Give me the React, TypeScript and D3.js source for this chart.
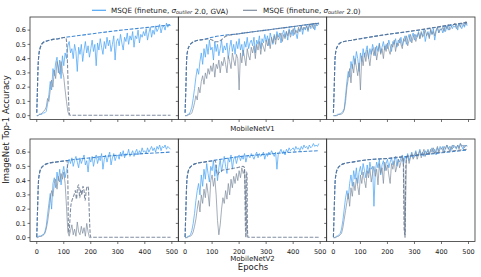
import React from 'react';
import * as d3 from 'd3';

// accuracy in percent, one value every 5 epochs (0, 5, ..., 495)
const STEP = 5;

// MobileNetV1
const v1aBlue = [0,0,1,1,1,2, 2,3,8,15, 24,18,33,28,37,41, 30,39,26,42, 35,44,40,49,
  52,44,47,40,50,45, 31,48,43,50,38,46,52,44,49,41, 47,53,45,50,35,51,46,54,48,43,
  52,47,55,49,53,45,50,56,39,52, 54,49,57,51,46,55,52,58,50,56, 53,59,48,56,54,60,51,57,55,59,
  56,61,53,58,62,55,60,57,63,59, 61,64,58,62,63,60,65,62,64,63];
const v1aGray = [0,0,1,1,2,3, 4,6,12,10, 18,25,20,32,26,38, 34,29,38,31, 27,18,10,3, 0];
const v1aBlueDash: [number, number][] = [[0,2],[2,15],[5,35],[8,43],[12,47],[18,50],[25,51.5],[40,52.5],[60,53.5],[80,54],[100,54.8],[120,55.3],[200,57.3],[300,59.7],[400,61.7],[495,63.7]];
const v1aGrayDash: [number, number][] = [[0,2],[2,15],[5,35],[8,43],[12,47],[18,50],[25,51.5],[40,52.5],[60,53.5],[80,54],[100,54.8],[108,54.6],[111,50],[114,35],[117,15],[120,3],[123,0.3],[495,0.3]];

const v1bBlue = [0,0,1,1,3,6, 12,19,27,33, 29,38,44,36,47,41, 50,43,53,46, 48,39,52,45,
  50,42,47,53,44,49, 46,51,40,48,53,45,50,43,52,47, 54,46,50,42,52,48,55,47,51,53,
  49,55,44,53,50,56,47,54,51,57, 52,56,49,58,54,50,57,53,59,55, 58,51,57,60,55,59,53,61,57,60,
  56,62,58,54,61,59,63,57,62,60, 63,59,64,61,62,65,60,64,63,65];
const v1bGray = [0,0,0,1,1,2, 5,9,14,11, 20,16,24,28,22,30, 26,33,29,35, 31,37,27,36,
  33,39,30,38,35,41, 36,30,42,38,33,44,39,35,43,40, 18,44,37,46,41,35,47,42,39,48,
  44,49,40,50,46,52,43,51,48,45, 53,49,54,47,55,51,56,50,57,53, 55,58,52,57,54,59,56,60,55,58,
  61,57,60,58,62,59,63,60,62,61, 63,60,64,62,65,61,64,63,65,64];
const v1bBlueDash: [number, number][] = [[0,2],[3,20],[6,40],[10,46],[16,49],[25,51],[40,52.5],[70,53.5],[100,55],[200,57.5],[300,60],[400,62.5],[495,64.8]];
const v1bGrayDash: [number, number][] = [[0,2],[3,20],[6,40],[10,46],[16,49],[25,51],[40,52.5],[70,53.5],[85,53.8],[100,53],[112,51.8],[125,52],[138,53.8],[152,55.8],[200,57.5],[300,60],[400,62.5],[495,65]];

const v1cBlue = [0,0,0,1,1,1, 2,3,5,14, 24,31,27,38,33,42, 36,45,40,31, 44,38,47,41,
  45,49,40,47,43,50, 46,42,49,45,51,44,48,52,46,50, 47,53,49,45,52,50,54,48,53,51,
  55,49,53,56,50,54,57,52,55,58, 53,57,55,59,54,58,56,60,52,57, 59,55,60,57,61,53,59,62,58,60,
  61,58,62,59,63,60,62,64,61,63, 62,64,60,65,63,61,64,62,65,63];
const v1cGray = [0,0,0,0,1,1, 1,2,4,10, 20,26,33,23,36,30, 40,34,28,37, 18,42,35,44,
  38,46,41,35,44,47, 42,48,39,45,50,43,47,40,49,45, 51,46,43,50,48,53,45,51,49,54,
  50,47,54,52,56,49,53,57,51,55, 57,52,56,58,54,59,55,57,60,56, 58,54,61,57,59,56,60,62,58,61,
  60,62,59,63,61,64,60,62,63,64, 65,61,63,64,62,65,64,63,66,64];
const v1cBlueDash: [number, number][] = [[0,2],[3,20],[6,40],[10,46],[16,49],[25,51],[40,52],[70,53],[100,54],[200,57],[300,59.5],[400,62.5],[495,65.2]];
const v1cGrayDash: [number, number][] = [[0,2],[3,20],[6,40],[10,46],[16,49],[25,51],[40,52],[70,53],[100,54],[200,57],[300,59.7],[400,62.7],[495,65.5]];

// MobileNetV2
const v2aBlue = [0,1,1,1,2,2, 4,8,16,24, 31,20,38,42,35,46, 40,48,37,45, 50,42,47,51,
  55,52,56,50,54,57, 53,49,56,52,55,58,51,54,46,56, 53,57,50,55,58,52,56,54,59,48,
  55,58,53,57,60,51,56,59,54,57, 58,55,60,57,61,56,59,58,62,57, 59,61,57,60,62,58,61,59,63,60,
  61,59,63,60,62,64,61,63,60,64, 62,65,61,64,63,65,62,64,63,62];
const v2aGray = [0,0,1,1,1,2, 3,6,11,18, 27,33,29,38,41,34, 43,39,45,41, 46,38,22,4,
  1,5,9,2,6,1,11,4,2,8,3,7,1,10,4,0,0];
const v2aBlueDash: [number, number][] = [[0,0.5],[3,20],[6,38],[10,45],[16,48.5],[25,50.5],[40,52],[70,53],[100,53.8],[150,55],[200,56],[300,57.8],[400,59],[495,60]];
const v2aGrayDash: [number, number][] = [[0,0.5],[3,20],[6,38],[10,45],[16,48.5],[25,50.5],[40,52],[70,53],[100,53.8],[112,54],[115,40],[117,10],[119,3],[122,10],[126,22],[132,27],[138,30],[143,33],[147,27],[151,35],[155,37],[159,28],[163,34],[167,30],[171,36],[175,33],[179,26],[183,33],[187,36],[191,35],[194,20],[197,5],[200,0.3],[495,0.3]];

const v2bBlue = [0,0,1,1,2,5, 10,17,26,33, 38,30,44,36,48,41, 52,45,39,50, 47,54,43,51,
  40,49,55,46,52,57, 50,45,56,53,58,48,55,57,52,56, 58,54,57,55,59,53,57,58,56,59,
  57,55,58,60,56,59,57,58,60,55, 59,57,60,58,61,59,57,60,48,59, 60,62,59,61,58,62,60,63,61,62,
  63,61,64,62,63,61,64,62,65,63, 64,62,65,63,64,66,64,65,64,66];
const v2bGray = [0,0,0,1,1,2, 4,8,13,20, 26,18,30,24,34,28, 38,31,22,40, 44,36,42,30,
  12,2,9,20,28,24, 33,27,38,30,41,35,43,38,45,40, 47,42,49,45,48,20,0];
const v2bBlueDash: [number, number][] = [[0,0.5],[3,20],[6,38],[10,45],[16,48.5],[25,50.5],[40,52],[70,53],[100,54],[150,55.5],[200,56.8],[300,58.5],[400,60],[495,61]];
const v2bGrayDash: [number, number][] = [[0,0.5],[3,20],[6,38],[10,45],[16,48.5],[25,50.5],[40,52],[70,53],[100,53.8],[112,54],[116,48],[120,44],[125,45.5],[135,47],[160,48],[190,49],[215,50],[220,49],[223,10],[225,0.3],[227,46],[229,45],[231,5],[233,0.3],[495,0.3]];

const v2cBlue = [0,0,1,1,2,3, 6,12,20,28, 33,27,38,44,36,47, 41,49,38,46, 50,44,52,47,
  42,51,45,53,48,50, 22,46,53,49,55,44,51,54,47,52, 55,49,53,56,51,54,57,50,55,53,
  56,58,52,57,55,59,54,57,60,56, 58,61,57,59,62,58,60,57,61,59, 62,59,61,63,60,62,58,63,61,64,
  62,64,60,63,65,62,64,61,65,63, 64,62,65,63,66,64,62,65,64,65];
const v2cGray = [0,0,0,1,1,2, 3,7,13,19, 25,31,22,35,29,39, 33,42,36,30, 44,38,46,40,
  35,47,42,49,39,45, 50,43,48,37,52,45,49,38,53,47, 51,44,38,52,48,54,46,50,55,49,
  53,56,50,0,55,58,52,56,59,55, 57,60,55,58,61,56,59,62,57,60, 61,58,62,60,63,59,61,64,60,62,
  63,61,64,62,65,63,61,64,62,65, 64,63,65,62,66,64,65,63,65,64];
const v2cBlueDash: [number, number][] = [[0,0.5],[3,20],[6,38],[10,45],[16,48.5],[25,50.5],[40,52],[70,53],[100,54],[150,55],[200,55.5],[300,57.5],[400,59.5],[495,61.5]];
const v2cGrayDash: [number, number][] = [[0,0.5],[3,20],[6,38],[10,45],[16,48.5],[25,50.5],[40,52],[70,53],[100,54],[150,55],[200,55.6],[258,56.8],[262,5],[265,2],[268,50],[272,57],[300,57.8],[400,60],[495,62]];

const xTicks = [0, 100, 200, 300, 400, 500];
const yTicks = [0, 0.1, 0.2, 0.3, 0.4, 0.5, 0.6];
const legendLabels = ['MSQE (finetune, ', ' 2.0, GVA)', ' 2.0)'];

const panels = [
  { row: 0, col: 0, blue: v1aBlue, gray: v1aGray, blueDash: v1aBlueDash, grayDash: v1aGrayDash },
  { row: 0, col: 1, blue: v1bBlue, gray: v1bGray, blueDash: v1bBlueDash, grayDash: v1bGrayDash, label: 'MobileNetV1' },
  { row: 0, col: 2, blue: v1cBlue, gray: v1cGray, blueDash: v1cBlueDash, grayDash: v1cGrayDash },
  { row: 1, col: 0, blue: v2aBlue, gray: v2aGray, blueDash: v2aBlueDash, grayDash: v2aGrayDash },
  { row: 1, col: 1, blue: v2bBlue, gray: v2bGray, blueDash: v2bBlueDash, grayDash: v2bGrayDash, label: 'MobileNetV2' },
  { row: 1, col: 2, blue: v2cBlue, gray: v2cGray, blueDash: v2cBlueDash, grayDash: v2cGrayDash },
];

const BLUE = '#4ea5f5';
const GRAY = '#7d8c9c';
const BLUE_DASH = '#3f88d6';
const GRAY_DASH = '#60708a';
const AXIS = '#333';
const FONT = 'DejaVu Sans, sans-serif';

const left = 30, panelW = 148.33;
const rowTop = [17, 139], panelH = 102.5;

function Panel(p: any) {
  const x0 = left + p.col * panelW;
  const y0 = rowTop[p.row];
  const x = d3.scaleLinear().domain([-25, 524]).range([x0, x0 + panelW]);
  const y = d3.scaleLinear().domain([-0.027, 0.692]).range([y0 + panelH, y0]);

  const solid = d3.line<number>().x((d, i) => x(i * STEP)).y(d => y(d / 100));
  const dashed = d3.line<[number, number]>().x(d => x(d[0])).y(d => y(d[1] / 100)).curve(d3.curveMonotoneX);
  const bottom = y0 + panelH;

  return (
    <g>
      <path d={solid(p.blue) || ''} fill="none" stroke={BLUE} strokeWidth={1} strokeOpacity={0.75} />
      <path d={solid(p.gray) || ''} fill="none" stroke={GRAY} strokeWidth={1} strokeOpacity={0.7} />
      <path d={dashed(p.blueDash) || ''} fill="none" stroke={BLUE_DASH} strokeWidth={1.1} strokeDasharray="3.7,1.6" />
      <path d={dashed(p.grayDash) || ''} fill="none" stroke={GRAY_DASH} strokeWidth={1.1} strokeOpacity={0.8} strokeDasharray="3.7,1.6" />
      <rect x={x0} y={y0} width={panelW} height={panelH} fill="none" stroke={AXIS} strokeWidth={0.8} />
      {xTicks.map(t => (
        <g key={'x' + t}>
          <line x1={x(t)} x2={x(t)} y1={bottom} y2={bottom + 2.5} stroke={AXIS} strokeWidth={0.7} />
          {p.row === 1 && (
            <text x={x(t)} y={bottom + 12.3} textAnchor="middle" fontSize={6.5} fontFamily={FONT} fill="#222">{t}</text>
          )}
        </g>
      ))}
      {yTicks.map(t => (
        <g key={'y' + t}>
          <line x1={x0 - 2.5} x2={x0} y1={y(t)} y2={y(t)} stroke={AXIS} strokeWidth={0.7} />
          {p.col === 0 && (
            <text x={x0 - 4} y={y(t)} dy="0.35em" textAnchor="end" fontSize={6.5} fontFamily={FONT} fill="#222">{t.toFixed(1)}</text>
          )}
        </g>
      ))}
      {p.label && (
        <text x={x0 + panelW / 2} y={p.row === 0 ? 130.5 : 260.5} textAnchor="middle" fontSize={7} fontFamily={FONT} fill="#222">{p.label}</text>
      )}
    </g>
  );
}

function Sigma() {
  return (
    <>
      <tspan fontStyle="italic">σ</tspan>
      <tspan fontStyle="italic" fontSize={5} dy={1.6}>outlier</tspan>
      <tspan dy={-1.6}></tspan>
    </>
  );
}

export default function App() {
  return (
    <svg width={481} height={277} style={{ position: 'absolute', left: 0, top: 0, background: '#fff' }}>
      {panels.map((p, i) => <Panel key={i} {...p} />)}

      {/* legend */}
      <line x1={92} x2={106} y1={10.3} y2={10.3} stroke={BLUE} strokeWidth={1.2} />
      <text x={111} y={12.7} fontSize={7.2} fontFamily={FONT} fill="#222">
        {legendLabels[0]}<Sigma />{legendLabels[1]}
      </text>
      <line x1={243} x2={257} y1={10.3} y2={10.3} stroke={GRAY} strokeWidth={1.2} />
      <text x={263} y={12.7} fontSize={7.2} fontFamily={FONT} fill="#222">
        {legendLabels[0]}<Sigma />{legendLabels[2]}
      </text>

      <text x={253} y={270} textAnchor="middle" fontSize={8.5} fontFamily={FONT} fill="#222">Epochs</text>
      <text transform="translate(8.5,129.5) rotate(-90)" textAnchor="middle" fontSize={8.5} fontFamily={FONT} fill="#222">ImageNet Top-1 Accuracy</text>
    </svg>
  );
}
